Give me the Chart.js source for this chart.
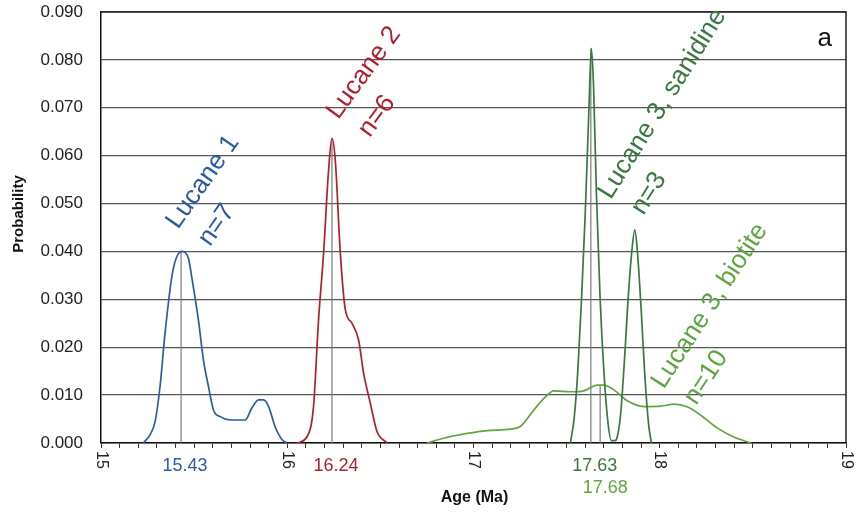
<!DOCTYPE html>
<html>
<head>
<meta charset="utf-8">
<script src="https://cdn.jsdelivr.net/npm/chart.js@4/dist/chart.umd.min.js"></script>
<style>
  html, body { margin: 0; padding: 0; background: #fff; }
  #wrap { width: 856px; height: 515px; }
</style>
</head>
<body>
<div id="wrap"><canvas id="c" width="856" height="515"></canvas></div>
<script>
// ---------------- DATA ----------------
const xTickLabels = ['15', '16', '17', '18', '19'];
const xTickValues = [15, 16, 17, 18, 19];

const lucane1Age  = [15.227, 15.263, 15.29, 15.317, 15.344, 15.385, 15.434, 15.47, 15.487, 15.523, 15.55, 15.577, 15.604, 15.64, 15.694, 15.774, 15.81, 15.846, 15.873, 15.9, 15.935, 15.97, 15.998];
const lucane1Prob = [0, 0.0017, 0.0044, 0.0118, 0.023, 0.0358, 0.0400, 0.0385, 0.0347, 0.0257, 0.0173, 0.0118, 0.0069, 0.0055, 0.0048, 0.0048, 0.0073, 0.0090, 0.0090, 0.0076, 0.0034, 0.0008, 0];

const lucane2Age  = [16.052, 16.106, 16.141, 16.168, 16.195, 16.222, 16.24, 16.258, 16.285, 16.312, 16.348, 16.383, 16.41, 16.446, 16.482, 16.536];
const lucane2Prob = [0, 0.0013, 0.0076, 0.0257, 0.0396, 0.057, 0.0636, 0.059, 0.0396, 0.0278, 0.025, 0.0215, 0.0146, 0.0083, 0.0024, 0];

const sanidineAge  = [17.52, 17.54, 17.56, 17.58, 17.60, 17.62, 17.633, 17.645, 17.66, 17.68, 17.70, 17.72, 17.74, 17.76, 17.77, 17.79, 17.81, 17.83, 17.85, 17.866, 17.88, 17.90, 17.92, 17.94, 17.955];
const sanidineProb = [0, 0.005, 0.015, 0.030, 0.048, 0.070, 0.0824, 0.074, 0.052, 0.030, 0.015, 0.005, 0.0005, 0.0005, 0.001, 0.006, 0.017, 0.030, 0.040, 0.0445, 0.040, 0.028, 0.014, 0.004, 0];

const biotiteAge  = [16.751, 16.84, 16.966, 17.074, 17.199, 17.253, 17.324, 17.378, 17.432, 17.522, 17.593, 17.665, 17.70, 17.754, 17.826, 17.915, 18.005, 18.077, 18.149, 18.22, 18.31, 18.40, 18.49];
const biotiteProb = [0, 0.001, 0.002, 0.0026, 0.0029, 0.0035, 0.0069, 0.0093, 0.0109, 0.0107, 0.0109, 0.0121, 0.0121, 0.0111, 0.0088, 0.0076, 0.0077, 0.0081, 0.0075, 0.0058, 0.0031, 0.0012, 0];

const seriesNames = ['Lucane 1', 'Lucane 2', 'Lucane 3, sanidine', 'Lucane 3, biotite'];
const seriesN     = ['n=7', 'n=6', 'n=3', 'n=10'];

const peakAges    = [15.43, 16.24, 17.63, 17.68];
const peakHeights = [0.0400, 0.0636, 0.0824, 0.0122];
const peakLabels  = ['15.43', '16.24', '17.63', '17.68'];

const panelLabel = 'a';

// ---------------- STYLE ----------------
const colors = ['#2d5ba3', '#b01f2e', '#3a7743', '#5fa542'];
const FONT = '"Liberation Sans", Arial, Helvetica, sans-serif';
// label placement (data units for start of first line) and angle
const labelPlace = [
  { x: 15.414, y: 0.0445, ang: -55 },
  { x: 16.274, y: 0.0674, ang: -54 },
  { x: 17.737, y: 0.0507, ang: -58 },
  { x: 18.022, y: 0.0111, ang: -57 }
];
const peakLabelRow = [0, 0, 0, 1];
const peakLabelColor = [0, 1, 2, 3];

function pts(xs, ys) { return xs.map((x, i) => ({ x: x, y: ys[i] })); }

const curveSets = [
  [lucane1Age, lucane1Prob],
  [lucane2Age, lucane2Prob],
  [sanidineAge, sanidineProb],
  [biotiteAge, biotiteProb]
];

const datasets = [];
peakAges.forEach((a, i) => {
  datasets.push({
    data: [{ x: a, y: 0 }, { x: a, y: peakHeights[i] }],
    borderColor: '#7a7a7a', borderWidth: 1.2, pointRadius: 0, tension: 0, order: 5
  });
});
curveSets.forEach((s, i) => {
  datasets.push({
    data: pts(s[0], s[1]),
    borderColor: colors[i], borderWidth: 1.7, pointRadius: 0,
    cubicInterpolationMode: 'monotone', fill: false, order: 1
  });
});

const decor = {
  id: 'decor',
  afterDraw(chart) {
    const ctx = chart.ctx;
    const xs = chart.scales.x, ys = chart.scales.y;
    const ca = chart.chartArea;
    ctx.save();
    // top & right border
    ctx.strokeStyle = '#222';
    ctx.lineWidth = 1.5;
    ctx.beginPath();
    ctx.moveTo(ca.left, ys.getPixelForValue(0.09));
    ctx.lineTo(ca.right, ys.getPixelForValue(0.09));
    ctx.lineTo(ca.right, ys.getPixelForValue(0));
    ctx.stroke();

    // x tick labels rotated clockwise
    ctx.fillStyle = '#222';
    ctx.font = '16px ' + FONT;
    xTickValues.forEach((v, i) => {
      const px = xs.getPixelForValue(v);
      ctx.save();
      ctx.translate(px, ca.bottom + 8);
      ctx.rotate(Math.PI / 2);
      ctx.textAlign = 'left';
      ctx.textBaseline = 'middle';
      ctx.fillText(xTickLabels[i], 0, 0);
      ctx.restore();
    });

    // peak age labels
    ctx.font = '18px ' + FONT;
    ctx.textAlign = 'center';
    ctx.textBaseline = 'middle';
    peakAges.forEach((a, i) => {
      ctx.fillStyle = colors[peakLabelColor[i]];
      const px = xs.getPixelForValue(a);
      ctx.fillText(peakLabels[i], px + (i === 3 ? 5 : 4), ca.bottom + 23 + peakLabelRow[i] * 22);
    });

    // axis titles
    ctx.fillStyle = '#111';
    ctx.font = 'bold 16px ' + FONT;
    ctx.fillText('Age (Ma)', (ca.left + ca.right) / 2 + 1, ca.bottom + 55);
    ctx.save();
    ctx.translate(19, 214);
    ctx.rotate(-Math.PI / 2);
    ctx.font = 'bold 15px ' + FONT;
    ctx.fillText('Probability', 0, 0);
    ctx.restore();

    // panel label
    ctx.font = '26px ' + FONT;
    ctx.textAlign = 'right';
    ctx.textBaseline = 'alphabetic';
    ctx.fillStyle = '#111';
    ctx.fillText(panelLabel, ca.right - 14, 46);

    // series labels (rotated)
    ctx.font = '26px ' + FONT;
    ctx.textAlign = 'left';
    ctx.textBaseline = 'alphabetic';
    seriesNames.forEach((name, i) => {
      const p = labelPlace[i];
      ctx.save();
      ctx.translate(xs.getPixelForValue(p.x), ys.getPixelForValue(p.y));
      ctx.rotate(p.ang * Math.PI / 180);
      ctx.fillStyle = colors[i];
      ctx.fillText(name, 0, 0);
      ctx.fillText(seriesN[i], 4, 36);
      ctx.restore();
    });
    ctx.restore();
  }
};

new Chart(document.getElementById('c'), {
  type: 'line',
  data: { datasets: datasets },
  options: {
    responsive: false,
    animation: false,
    layout: { padding: { top: 12, right: 10, left: 0, bottom: 0 } },
    plugins: { legend: { display: false }, tooltip: { enabled: false } },
    scales: {
      x: {
        type: 'linear', min: 15, max: 19,
        ticks: { stepSize: 0.1, autoSkip: false, display: false },
        grid: { drawOnChartArea: false, drawTicks: true, tickLength: 5, color: '#333', lineWidth: 1 },
        border: { color: '#111', width: 1.5 },
        afterFit: s => { s.height = 72; s.paddingLeft = 0; s.paddingRight = 0; }
      },
      y: {
        min: 0, max: 0.09,
        ticks: {
          stepSize: 0.01, padding: 18, color: '#222',
          font: { size: 17, family: FONT },
          callback: v => v.toFixed(3)
        },
        grid: { color: '#555', lineWidth: 1.3, drawTicks: false },
        border: { color: '#111', width: 1.5 },
        afterFit: s => { s.width = 101; s.paddingTop = 0; s.paddingBottom = 0; }
      }
    }
  },
  plugins: [decor]
});
</script>
</body>
</html>
